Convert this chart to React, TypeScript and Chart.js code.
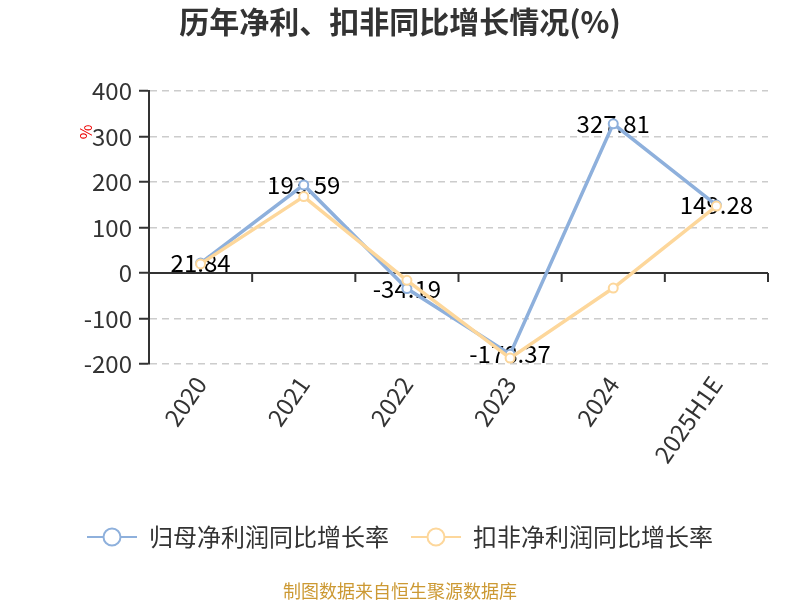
import React, { useEffect, useRef } from "react";
import { Chart, registerables } from "chart.js";

Chart.register(...registerables);

const categories = ["2020", "2021", "2022", "2023", "2024", "2025H1E"];
const netProfitGrowth = [21.84, 193.59, -34.19, -178.37, 327.81, 149.28];
const deductedGrowth = [20, 168, -16, -187, -33, 147];
const yTicks = [400, 300, 200, 100, 0, -100, -200];
const seriesNames = ["归母净利润同比增长率", "扣非净利润同比增长率"];
const titleText = "历年净利、扣非同比增长情况(%)";
const footerText = "制图数据来自恒生聚源数据库";
const unitText = "%";

const BLUE = "#8eb0dc";
const ORANGE = "#fdd79b";
const FONT = "'Noto Sans CJK SC', 'Noto Sans', sans-serif";

function makeLegendIcon(color: string): HTMLCanvasElement {
  const c = document.createElement("canvas");
  c.width = 50;
  c.height = 22;
  const g = c.getContext("2d")!;
  g.strokeStyle = color;
  g.lineWidth = 2;
  g.beginPath();
  g.moveTo(0, 11);
  g.lineTo(50, 11);
  g.stroke();
  g.beginPath();
  g.arc(25, 11, 8.5, 0, Math.PI * 2);
  g.fillStyle = "#fff";
  g.fill();
  g.stroke();
  return c;
}

export default function App() {
  const ref = useRef<HTMLCanvasElement>(null);

  useEffect(() => {
    if (!ref.current) return;
    const icons = [makeLegendIcon(BLUE), makeLegendIcon(ORANGE)];

    const extras = {
      id: "extras",
      beforeDatasetsDraw(chart: any) {
        const { ctx, chartArea } = chart;
        const x = chart.scales.x;
        const y = chart.scales.y;
        const y0 = y.getPixelForValue(0);
        ctx.save();
        ctx.strokeStyle = "#333";
        ctx.lineWidth = 2;
        ctx.beginPath();
        ctx.moveTo(chartArea.left, y0);
        ctx.lineTo(chartArea.right, y0);
        ctx.stroke();
        const n = categories.length;
        const step = x.getPixelForValue(1) - x.getPixelForValue(0);
        for (let i = 0; i <= n; i++) {
          const px = i < n ? x.getPixelForValue(i) - step / 2 : chartArea.right;
          ctx.beginPath();
          ctx.moveTo(px, y0);
          ctx.lineTo(px, y0 + 9);
          ctx.stroke();
        }
        const meta = chart.getDatasetMeta(0);
        ctx.fillStyle = "#000";
        ctx.font = `24px ${FONT}`;
        ctx.textAlign = "center";
        ctx.textBaseline = "middle";
        meta.data.forEach((pt: any, i: number) => {
          ctx.fillText(String(netProfitGrowth[i]), pt.x, pt.y);
        });
        ctx.restore();
      },
      afterDraw(chart: any) {
        const { ctx } = chart;
        ctx.save();
        ctx.fillStyle = "#cc9933";
        ctx.font = `18px ${FONT}`;
        ctx.textAlign = "center";
        ctx.textBaseline = "middle";
        ctx.fillText(footerText, 400, 591);
        ctx.translate(86, 132);
        ctx.rotate(-Math.PI / 2);
        ctx.fillStyle = "#e00";
        ctx.font = `16px ${FONT}`;
        ctx.fillText(unitText, 0, 0);
        ctx.restore();
      },
    };

    const chart = new Chart(ref.current, {
      type: "line",
      data: {
        labels: categories,
        datasets: [
          {
            label: seriesNames[0],
            data: netProfitGrowth,
            borderColor: BLUE,
            backgroundColor: "#fff",
            borderWidth: 3.5,
            pointRadius: 4.5,
            pointBorderWidth: 2,
            pointBackgroundColor: "#fff",
            pointBorderColor: BLUE,
            order: 1,
          },
          {
            label: seriesNames[1],
            data: deductedGrowth,
            borderColor: ORANGE,
            backgroundColor: "#fff",
            borderWidth: 3.5,
            pointRadius: 4.5,
            pointBorderWidth: 2,
            pointBackgroundColor: "#fff",
            pointBorderColor: ORANGE,
            order: 0,
          },
        ],
      },
      options: {
        animation: false,
        responsive: false,
        devicePixelRatio: 1,
        layout: { padding: { left: 32, right: 32, top: 0, bottom: 41 } },
        plugins: {
          tooltip: { enabled: false },
          title: {
            display: true,
            text: titleText,
            color: "#333",
            font: { family: FONT, size: 30, weight: "bold" },
            padding: { top: 4, bottom: 51 },
          },
          legend: {
            display: true,
            position: "bottom",
            labels: {
              usePointStyle: true,
              pointStyleWidth: 50,
              padding: 22,
              color: "#333",
              font: { family: FONT, size: 24 },
              generateLabels: (ch: any) =>
                ch.data.datasets.map((ds: any, i: number) => ({
                  text: ds.label,
                  fillStyle: "#fff",
                  strokeStyle: ds.borderColor,
                  lineWidth: 0,
                  pointStyle: icons[i],
                  hidden: false,
                  datasetIndex: i,
                  fontColor: "#333",
                })),
            },
          },
        },
        scales: {
          x: {
            type: "category",
            offset: true,
            grid: { display: false, drawTicks: false },
            border: { display: false },
            ticks: {
              minRotation: 55,
              maxRotation: 55,
              padding: 7,
              color: "#333",
              font: { family: FONT, size: 24 },
              autoSkip: false,
            },
            afterFit: (s: any) => {
              s.height = 139;
            },
          },
          y: {
            min: -200,
            max: 400,
            afterBuildTicks: (s: any) => {
              s.ticks = yTicks.map((v) => ({ value: v }));
            },
            grid: {
              color: (c: any) => (c.tick && c.tick.value === 0 ? "rgba(0,0,0,0)" : "#cccccc"),
              lineWidth: 1.5,
              tickColor: "#333",
              tickLength: 10,
              tickWidth: 2,
              tickBorderDash: [],
            },
            border: { display: true, color: "#333", width: 2, dash: [7, 5] },
            ticks: {
              color: "#333",
              padding: 7,
              font: { family: FONT, size: 24 },
            },
            afterFit: (s: any) => {
              s.width = 117;
            },
          },
        },
      },
      plugins: [extras],
    });
    return () => chart.destroy();
  }, []);

  return (
    <div style={{ position: "absolute", left: 0, top: 0, width: 800, height: 600, background: "#fff" }}>
      <canvas ref={ref} width={800} height={600} style={{ width: 800, height: 600 }} />
    </div>
  );
}
